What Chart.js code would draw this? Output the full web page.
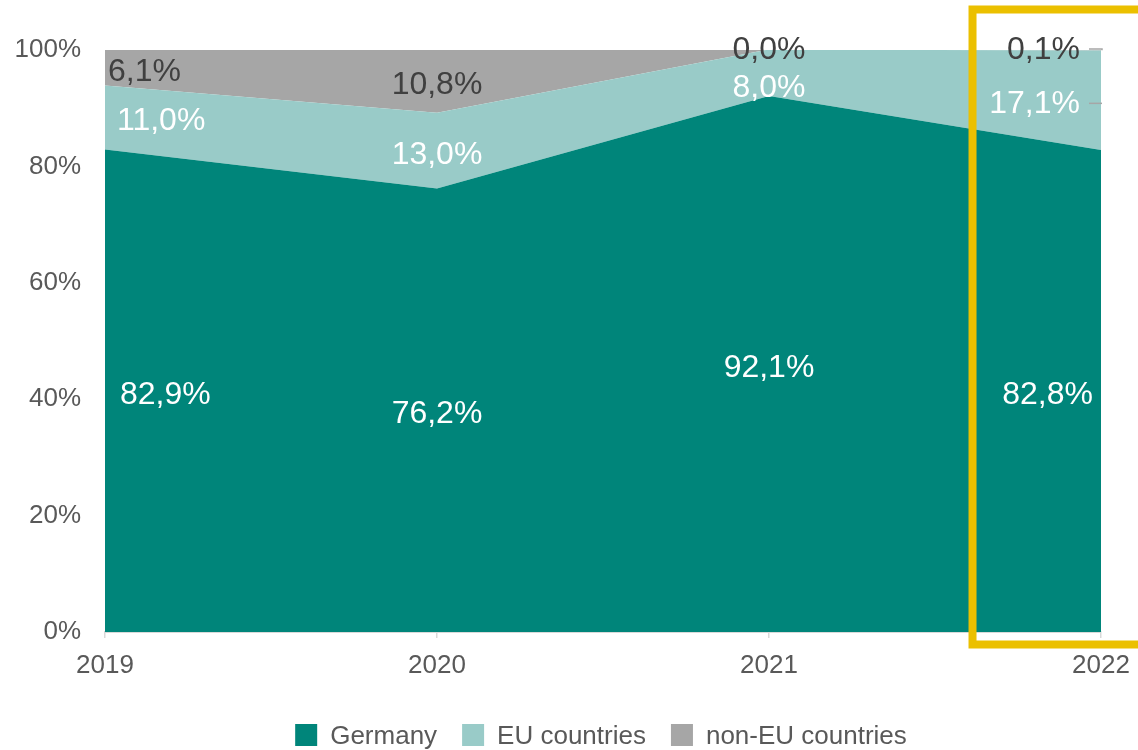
<!DOCTYPE html>
<html>
<head>
<meta charset="utf-8">
<script src="https://cdn.jsdelivr.net/npm/chart.js@4.4.0/dist/chart.umd.min.js"></script>
<style>
  html, body { margin: 0; padding: 0; background: #fff; }
  #chart { display: block; }
</style>
</head>
<body>
<canvas id="chart" width="1138" height="750"></canvas>
<script>
const years = ["2019", "2020", "2021", "2022"];
const germany = [82.9, 76.2, 92.1, 82.8];
const euCountries = [11.0, 13.0, 8.0, 17.1];
const nonEuCountries = [6.1, 10.8, 0.0, 0.1];
const seriesNames = ["Germany", "EU countries", "non-EU countries"];
const yTicks = [0, 20, 40, 60, 80, 100];
const highlightIndex = 3; // 2022 is boxed in yellow

const FONT = '"Liberation Sans", Arial, sans-serif';
const colors = {
  germany: "#00857a",
  eu: "#99cbc8",
  nonEu: "#a6a6a6",
  text: "#595959",
  axis: "#d9d9d9",
  highlight: "#ebc000",
  dark: "#404040",
};

const fmt = (v) => v.toFixed(1).replace(".", ",") + "%";

// value labels inside each band, Excel style
const dataLabels = {
  id: "dataLabels",
  afterDatasetsDraw(chart) {
    const { ctx } = chart;
    const xs = chart.scales.x;
    const ys = chart.scales.y;
    const ds = chart.data.datasets;
    const last = chart.data.labels.length - 1;
    const firstOffset = [15, 12, 3];
    ctx.save();
    ctx.font = `32px ${FONT}`;
    ctx.textBaseline = "middle";

    chart.data.labels.forEach((lbl, j) => {
      const bases = [];
      let acc = 0;
      ds.forEach((d, i) => {
        bases[i] = acc;
        acc += d.data[j];
      });
      const px = xs.getPixelForValue(j);
      let prevY = null;
      // top series first, so labels below get pushed clear
      for (let i = ds.length - 1; i >= 0; i--) {
        const v = ds[i].data[j];
        const mid = ys.getPixelForValue(Math.min(100, bases[i] + v / 2));
        let py = v < 1 ? ys.top - 4 : mid;
        if (prevY !== null && py - prevY < 38) py = prevY + 38;
        prevY = py;
        const ty = py + 4;

        let tx = px;
        ctx.textAlign = "center";
        if (j === 0) {
          ctx.textAlign = "left";
          tx = px + firstOffset[i];
        } else if (j === last) {
          ctx.textAlign = "right";
          tx = px - (i === 0 ? 8 : 21);
          if (i > 0) {
            ctx.strokeStyle = "#a6a6a6";
            ctx.lineWidth = 1.5;
            ctx.beginPath();
            ctx.moveTo(tx + 9, ty - 1);
            ctx.lineTo(px + 1, ty - 1);
            if (v < 1) ctx.lineTo(px + 1, mid);
            ctx.stroke();
          }
        }
        ctx.fillStyle = i === 2 ? colors.dark : "#ffffff";
        ctx.fillText(fmt(v), tx, ty);
      }
    });
    ctx.restore();
  },
};

const highlightBox = {
  id: "highlightBox",
  afterDraw(chart) {
    const { ctx, chartArea } = chart;
    const xs = chart.scales.x;
    const step = xs.getPixelForValue(1) - xs.getPixelForValue(0);
    const left = xs.getPixelForValue(highlightIndex) - step * 0.387;
    ctx.save();
    ctx.strokeStyle = colors.highlight;
    ctx.lineWidth = 8;
    ctx.strokeRect(left, chartArea.top - 40.5, chart.width - left + 20, chartArea.bottom - chartArea.top + 53);
    ctx.restore();
  },
};

const bottomLegend = {
  id: "bottomLegend",
  afterDraw(chart) {
    const { ctx, chartArea } = chart;
    ctx.save();
    ctx.font = `26px ${FONT}`;
    ctx.textBaseline = "middle";
    ctx.textAlign = "left";
    const box = 22, gap = 13, space = 25;
    const items = chart.data.datasets.map((d) => ({
      text: d.label,
      color: d.backgroundColor,
      w: ctx.measureText(d.label).width,
    }));
    const total = items.reduce((s, it) => s + box + gap + it.w, 0) + space * (items.length - 1);
    let cx = (chartArea.left + chartArea.right) / 2 - total / 2 - 2;
    const cy = 735;
    items.forEach((it) => {
      ctx.fillStyle = it.color;
      ctx.fillRect(cx, cy - 11, box, box);
      ctx.fillStyle = colors.text;
      ctx.fillText(it.text, cx + box + gap, cy + 2);
      cx += box + gap + it.w + space;
    });
    ctx.restore();
  },
};

const bandColors = [colors.germany, colors.eu, colors.nonEu];
const seriesData = [germany, euCountries, nonEuCountries];

new Chart(document.getElementById("chart"), {
  type: "line",
  data: {
    labels: years,
    datasets: seriesNames.map((name, i) => ({
      label: name,
      data: seriesData[i],
      backgroundColor: bandColors[i],
      borderColor: bandColors[i],
      borderWidth: 0,
      pointRadius: 0,
      tension: 0,
      fill: i === 0 ? "origin" : "-1",
    })),
  },
  options: {
    responsive: false,
    animation: false,
    layout: { padding: { top: 50, right: 37, bottom: 58, left: 0 } },
    plugins: {
      legend: { display: false },
      tooltip: { enabled: false },
    },
    scales: {
      x: {
        offset: false,
        afterFit(s) {
          s.height = 60;
        },
        grid: {
          display: true,
          drawOnChartArea: false,
          drawTicks: true,
          tickLength: 6,
          color: colors.axis,
          lineWidth: 1.5,
        },
        border: { display: true, color: colors.axis, width: 2 },
        ticks: {
          color: colors.text,
          font: { family: FONT, size: 26, lineHeight: 1.66 },
          padding: 6,
          maxRotation: 0,
          autoSkip: false,
        },
      },
      y: {
        stacked: true,
        min: 0,
        max: 100,
        afterFit(s) {
          s.width = 105;
        },
        afterBuildTicks(s) {
          s.ticks = yTicks.map((v) => ({ value: v }));
        },
        grid: { display: false, drawTicks: false },
        border: { display: false },
        ticks: {
          color: colors.text,
          font: { family: FONT, size: 26 },
          padding: 24,
          callback: (v) => v + "%",
        },
      },
    },
  },
  plugins: [dataLabels, highlightBox, bottomLegend],
});
</script>
</body>
</html>
